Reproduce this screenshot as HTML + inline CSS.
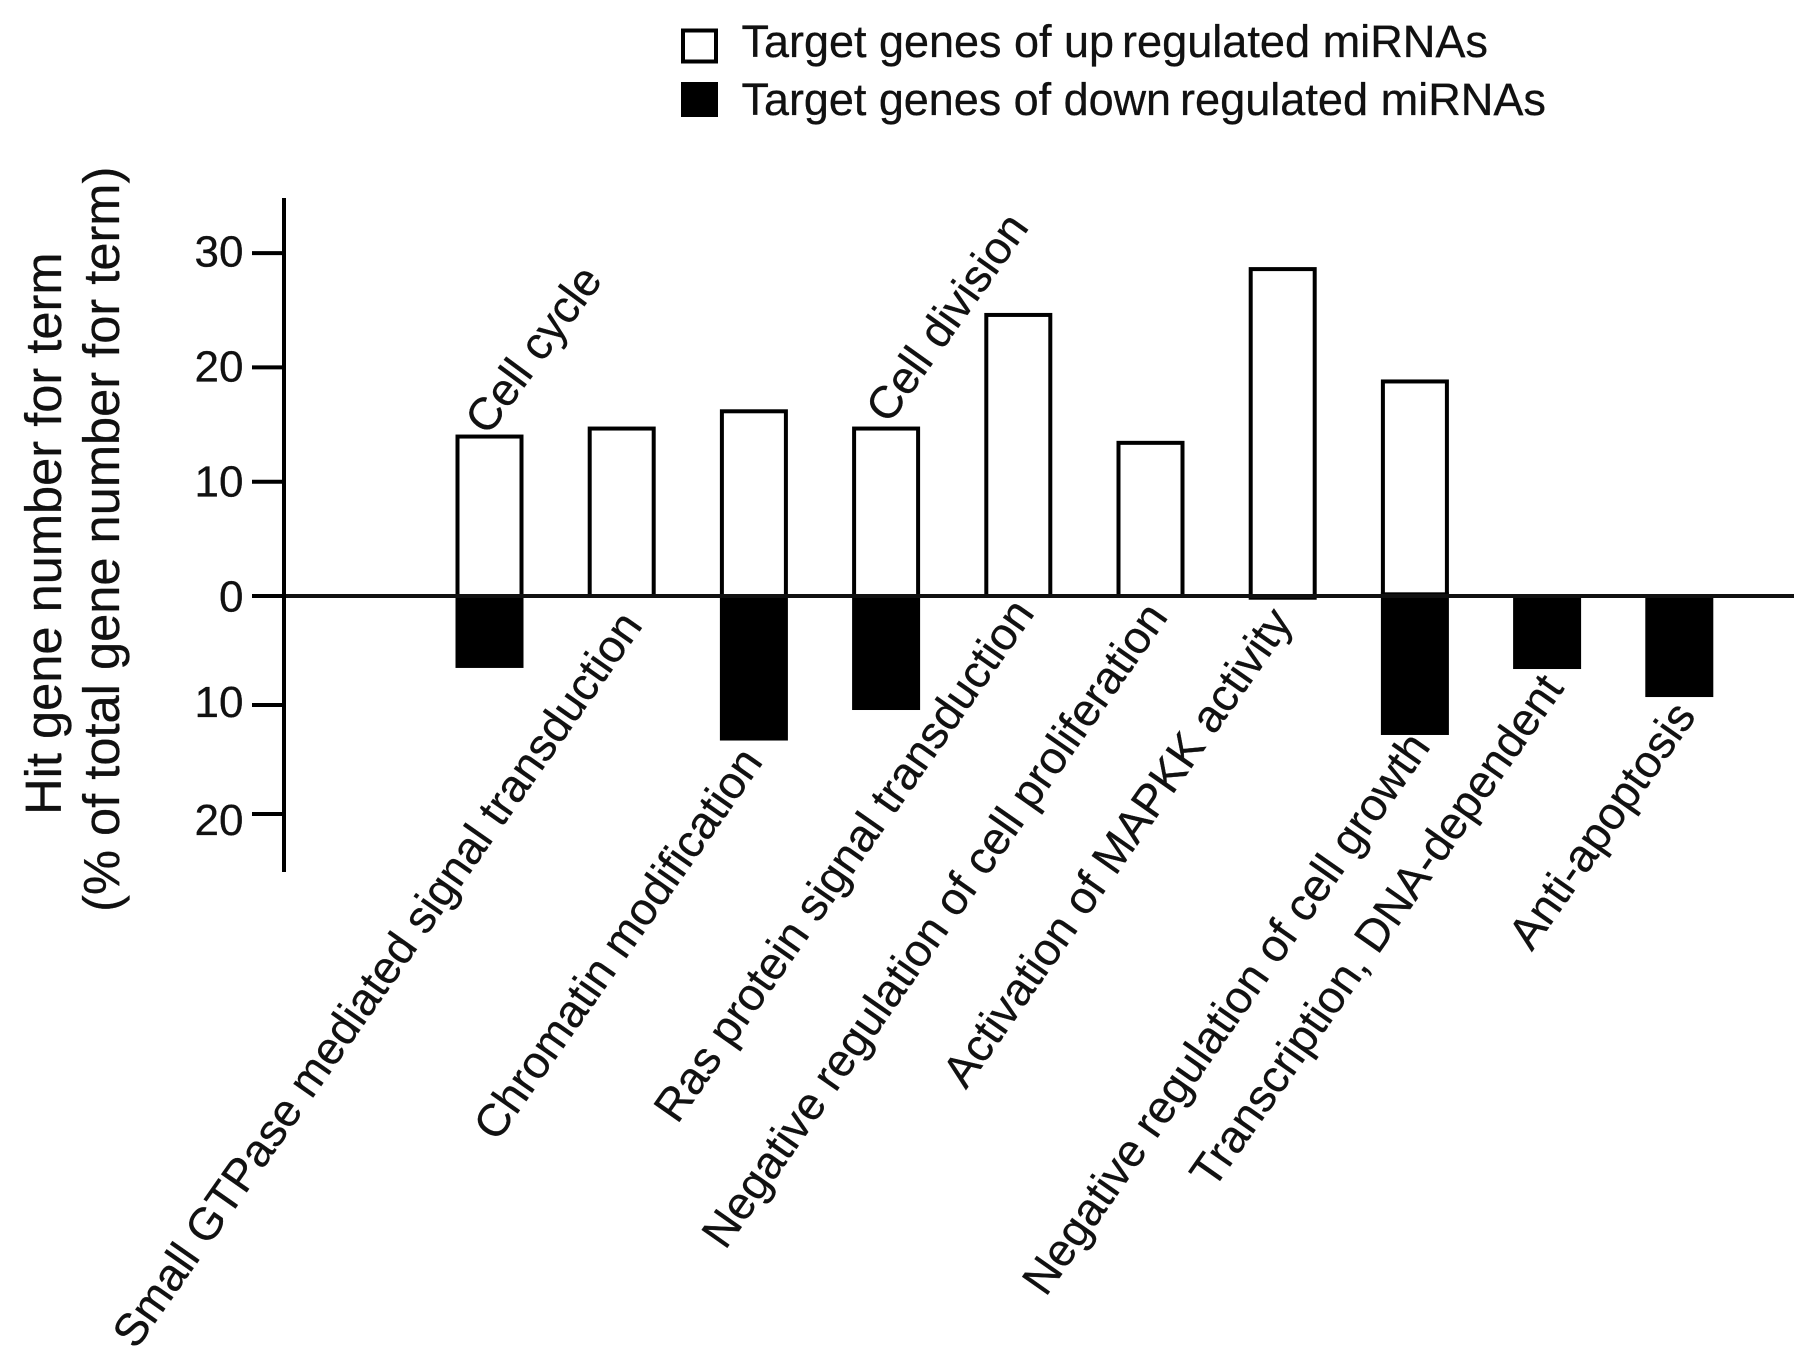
<!DOCTYPE html>
<html lang="en">
<head>
<meta charset="utf-8">
<title>Hit gene number for term</title>
<style>
html,body{margin:0;padding:0;background:#fff;}
svg{display:block;}
text{font-family:"Liberation Sans",sans-serif;fill:#111;stroke:#111;stroke-width:.3px;}
.cat{font-size:45.5px;text-anchor:middle;}
.tick{font-size:44px;text-anchor:end;}
.leg{font-size:45px;}
.ttl{font-size:50.6px;text-anchor:middle;}
</style>
</head>
<body>
<svg id="chart" xmlns="http://www.w3.org/2000/svg" width="1819" height="1367" viewBox="0 0 1819 1367">
  <rect x="0" y="0" width="1819" height="1367" fill="#fff"/>

  <g id="bars"></g>
  <g id="axes"></g>

  <g>
    <rect x="683" y="30.5" width="33" height="31" fill="#fff" stroke="#000" stroke-width="4"/>
    <text class="leg" x="741.5" y="57" textLength="372.5" lengthAdjust="spacingAndGlyphs">Target genes of up</text>
    <text class="leg" x="1122" y="57" textLength="366" lengthAdjust="spacingAndGlyphs">regulated miRNAs</text>
    <rect x="681" y="82" width="37" height="35" fill="#000"/>
    <text class="leg" x="741.5" y="115" textLength="429.5" lengthAdjust="spacingAndGlyphs">Target genes of down</text>
    <text class="leg" x="1180" y="115" textLength="366" lengthAdjust="spacingAndGlyphs">regulated miRNAs</text>
  </g>

  <g>
    <text class="ttl" transform="translate(61,533.7) rotate(-90)">Hit gene number for term</text>
    <text class="ttl" transform="translate(119,539.3) rotate(-90)">(% of total gene number for term)</text>
  </g>

  <g>
    <text class="cat" dy=".35em" transform="translate(533,349) rotate(-53.5)">Cell cycle</text>
    <text class="cat" dy=".35em" transform="translate(946.5,317) rotate(-54.5)">Cell division</text>
    <text class="cat" dy=".35em" transform="translate(376.7,979) rotate(-55)">Small GTPase mediated signal transduction</text>
    <text class="cat" dy=".35em" transform="translate(617.4,943.3) rotate(-55)">Chromatin modification</text>
    <text class="cat" dy=".35em" transform="translate(843.3,860) rotate(-55)">Ras protein signal transduction</text>
    <text class="cat" dy=".35em" transform="translate(934,924.7) rotate(-55)">Negative regulation of cell proliferation</text>
    <text class="cat" dy=".35em" transform="translate(1116.7,847) rotate(-55)">Activation of MAPKK activity</text>
    <text class="cat" dy=".35em" transform="translate(1225.5,1013) rotate(-55)">Negative regulation of cell growth</text>
    <text class="cat" dy=".35em" transform="translate(1376,930.3) rotate(-55)">Transcription, DNA-dependent</text>
    <text class="cat" dy=".35em" transform="translate(1601.4,825) rotate(-55)">Anti-apoptosis</text>
  </g>
</svg>
<script>
const categories = ["Cell cycle","Small GTPase mediated signal transduction","Chromatin modification","Cell division","Ras protein signal transduction","Negative regulation of cell proliferation","Activation of MAPKK activity","Negative regulation of cell growth","Transcription, DNA-dependent","Anti-apoptosis"];
const upValues = [13.95, 14.65, 16.16, 14.65, 24.59, 13.4, 28.6, 18.77, null, null];
const upBaseline = [0, 0, 0, 0, 0, 0, -0.15, 0, 0, 0];
const downValues = [6.6, null, 13.26, 10.46, null, null, null, 12.75, 6.7, 9.27];
const downBaseline = [0, 0, 0, 0, 0, 0, 0, -0.2, 0, 0];
const upTicks = [0, 10, 20, 30];
const downTicks = [10, 20];

const NS = "http://www.w3.org/2000/svg";
const ZERO = 596;
function xBand(i){ return 489.5 + i * 132.2; }
function yUp(v){ return ZERO - v * 11.43; }
function yDown(v){ return ZERO + v * 10.9; }
function yUpLabel(v){ return 611.7 - v * 11.5; }
function yDownLabel(v){ return 599 + v * 11.8; }
function make(tag, attrs, parent){
  const el = document.createElementNS(NS, tag);
  for (const k in attrs) el.setAttribute(k, attrs[k]);
  parent.appendChild(el);
  return el;
}
const barsG = document.getElementById("bars");
const axesG = document.getElementById("axes");

categories.forEach(function(c, i){
  if (upValues[i] === null) return;
  const y = yUp(upValues[i]);
  const y0 = yUp(upBaseline[i]);
  const bar = make("rect", {x: xBand(i) - 32, y: y, width: 64, height: y0 - y, fill: "#fff", stroke: "#000", "stroke-width": 4}, barsG);
  
  
});

const zLine = make("line", {x1: 252, x2: 1794, y1: ZERO, y2: ZERO, stroke: "#111", "stroke-width": 4}, axesG);



categories.forEach(function(c, i){
  if (downValues[i] === null) return;
  const y = yDown(downValues[i]);
  const y0 = yDown(downBaseline[i]) - 1.5;
  const bar = make("rect", {x: xBand(i) - 34, y: y0, width: 68, height: y - y0, fill: "#000"}, barsG);
  
  
});

const yLine = make("line", {x1: 284, x2: 284, y1: 198, y2: 872, stroke: "#000", "stroke-width": 4}, axesG);



upTicks.forEach(function(t){
  const m = make("line", {x1: 252, x2: 284, y1: yUp(t), y2: yUp(t), stroke: "#000", "stroke-width": 4}, axesG);
  
  
  const l = make("text", {class: "tick", x: 243.5, y: yUpLabel(t)}, axesG);
  
  
  l.textContent = t;
});
downTicks.forEach(function(t){
  const m = make("line", {x1: 252, x2: 284, y1: yDown(t), y2: yDown(t), stroke: "#000", "stroke-width": 4}, axesG);
  
  
  const l = make("text", {class: "tick", x: 243.5, y: yDownLabel(t)}, axesG);
  
  
  l.textContent = t;
});
</script>
</body>
</html>
